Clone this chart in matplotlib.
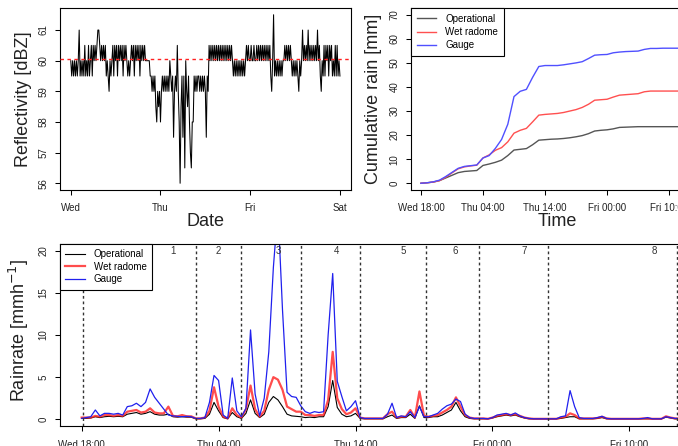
import matplotlib
matplotlib.use('Agg')
import matplotlib.pyplot as plt
import numpy as np

plt.rcParams['font.family'] = ['Liberation Sans', 'DejaVu Sans']

# ---------------- data ----------------
# Reflectivity, every 15 min from Wed 00:00 to Sat 00:00 (289 values)
reflectivity = [
    # Wed
    60, 59.5, 60, 59.5, 60, 59.5, 60, 59.5, 60, 61, 59.5, 60,
    59.5, 60, 59.5, 60.5, 59.5, 60, 59.5, 60.5, 59.5, 60, 60.5, 59.5,
    60.5, 60, 60.5, 60, 60.5, 61, 61, 60.5, 60, 60.5, 60, 60.5,
    60, 60.5, 59.5, 60, 59.5, 59, 60, 59.5, 60, 60.5, 59.5, 60.5,
    60, 60.5, 59.5, 60.5, 60, 60.5, 60, 60.5, 59.5, 60.5, 60, 60.5,
    60, 59.5, 60, 59.5, 60, 60.5, 60, 60.5, 59.5, 60.5, 60, 60.5,
    60, 60.5, 59.5, 60.5, 60, 60.5, 60, 60.5, 60, 60, 60, 60,
    60, 59.5, 59.5, 59, 59.5, 59, 59.5, 58.5, 58, 59, 58.5, 59,
    # Thu
    58, 59, 59.5, 59, 59.5, 59, 59.5, 59, 59.5, 59, 60, 59.5,
    59, 59.5, 57.5, 59, 59.5, 59, 60.5, 59, 58, 56, 58.5, 59.5,
    57.5, 59.5, 56.5, 60, 59, 58.5, 59.5, 58, 57, 56.5, 58, 58,
    59.5, 59, 59.5, 59, 59.5, 59.5, 59, 59.5, 59, 59.5, 59, 59.5,
    59, 57.5, 59.5, 59, 60.5, 60, 60.5, 60, 60.5, 60, 60.5, 60,
    60.5, 60, 60.5, 60, 60.5, 60, 60.5, 60, 60.5, 60, 60.5, 60,
    60.5, 60, 60.5, 60, 60.5, 60, 59.5, 60, 59.5, 60, 59.5, 60,
    59.5, 60, 59.5, 60, 59.5, 60, 59.5, 60, 60.5, 60, 60.5, 60,
    # Fri
    60, 60.5, 60, 60, 60.5, 60, 60, 60.5, 60, 60.5, 60, 60.5,
    60, 60.5, 60, 60.5, 60, 60.5, 60, 60.5, 60, 60.5, 59.5, 59,
    60, 61.5, 59.5, 60, 59.5, 60, 59.5, 60, 59.5, 60, 59.5, 60,
    60, 60.5, 60, 60.5, 60, 60.5, 60, 60.5, 60, 59.5, 60, 59.5,
    60, 59.5, 60, 59.5, 59, 60, 59.5, 60, 61, 60, 60.5, 60,
    60.5, 60, 61, 60, 60.5, 60, 60.5, 60, 60.5, 60, 60.5, 60,
    61, 60, 60.5, 59.5, 59, 60, 59.5, 60.5, 59.5, 60.5, 60, 60.5,
    59.5, 60.5, 60, 60.5, 59.5, 60, 59.5, 60.5, 59.5, 60.5, 59.5, 60,
    # Sat 00:00
    59.5,
]
refl_reference = 60.04
day_ticks = [0, 1, 2, 3]
day_labels = ['Wed', 'Thu', 'Fri', 'Sat']

# Cumulative rain, hourly from Wed 18:00 (44 values)
cum_operational = [
    0, 0.2, 0.5, 1.1, 2.2, 3.3, 4.4, 4.9, 5.1, 5.3,
    7.4, 8.0, 8.7, 9.6, 11.5, 13.8, 14.1, 14.4, 16.0, 17.9,
    18.1, 18.3, 18.4, 18.6, 18.9, 19.3, 19.8, 20.6, 21.7, 22.0,
    22.2, 22.6, 23.2, 23.3, 23.4, 23.5, 23.5, 23.5, 23.5, 23.5,
    23.5, 23.5, 23.5, 23.5,
]
cum_wet = [
    0, 0.2, 0.5, 1.1, 2.5, 4.3, 6.0, 6.8, 7.2, 7.5,
    10.5, 11.8, 13.7, 14.8, 17.2, 20.8, 22.0, 22.8, 25.5, 28.3,
    28.6, 28.8, 29.0, 29.4, 30.0, 30.6, 31.5, 32.8, 34.5, 34.7,
    34.9, 35.8, 36.6, 36.8, 37.0, 37.2, 38.0, 38.3, 38.3, 38.3,
    38.3, 38.3, 38.3, 38.3,
]
cum_gauge = [
    0, 0.2, 0.6, 1.3, 2.8, 4.5, 6.2, 7.0, 7.3, 7.6,
    10.5, 11.5, 14.5, 18.2, 24.5, 36.0, 38.2, 39.0, 44.0, 48.5,
    48.9, 48.9, 48.9, 49.2, 49.6, 50.0, 50.5, 51.8, 53.2, 53.4,
    53.5, 54.2, 54.5, 54.7, 54.8, 54.9, 55.6, 56.0, 56.0, 56.1,
    56.1, 56.1, 56.1, 56.1,
]

# Rain rate, every 20 min from Wed 18:00 (132 values)
rate_operational = [
    0.1, 0.1, 0.15, 0.3, 0.2, 0.3, 0.35, 0.3, 0.35, 0.3, 0.6, 0.7,
    0.8, 0.6, 0.7, 0.9, 0.6, 0.5, 0.5, 0.6, 0.3, 0.25, 0.3, 0.25,
    0.25, 0.05, 0.05, 0.1, 0.6, 2.0, 1.0, 0.2, 0.05, 0.8, 0.3, 0.1,
    0.7, 2.3, 0.7, 0.2, 0.6, 2.0, 2.7, 2.3, 1.5, 0.6, 0.4, 0.35,
    0.3, 0.2, 0.25, 0.2, 0.3, 0.3, 1.5, 4.6, 1.4, 0.6, 0.3, 0.4,
    0.7, 0.1, 0.05, 0.05, 0.05, 0.05, 0.05, 0.3, 0.5, 0.1, 0.2, 0.2,
    0.6, 0.1, 1.6, 0.2, 0.2, 0.3, 0.3, 0.5, 0.8, 1.1, 2.0, 1.0,
    0.3, 0.1, 0.05, 0.05, 0.05, 0.05, 0.15, 0.3, 0.4, 0.5, 0.4, 0.5,
    0.3, 0.15, 0.05, 0.05, 0.05, 0.05, 0.05, 0.05, 0.05, 0.1, 0.2, 0.3,
    0.3, 0.05, 0.05, 0.05, 0.05, 0.1, 0.2, 0.05, 0.05, 0.05, 0.05, 0.05,
    0.05, 0.05, 0.05, 0.05, 0.05, 0.05, 0.05, 0.05, 0.25, 0.15, 0.05, 0.05,
]
rate_wet = [
    0.2, 0.2, 0.2, 0.4, 0.3, 0.5, 0.5, 0.4, 0.5, 0.4, 0.9, 1.0,
    1.1, 0.8, 0.9, 1.3, 0.8, 0.7, 0.7, 1.5, 0.4, 0.35, 0.5, 0.35,
    0.35, 0.1, 0.1, 0.2, 1.0, 3.8, 1.5, 0.3, 0.1, 1.3, 0.5, 0.2,
    1.2, 4.0, 1.2, 0.3, 1.0, 3.5, 5.0, 4.7, 3.5, 1.5, 1.2, 0.9,
    0.9, 0.5, 0.5, 0.4, 0.5, 0.5, 2.3, 8.0, 2.5, 1.2, 0.6, 0.8,
    1.3, 0.2, 0.1, 0.1, 0.1, 0.1, 0.1, 0.6, 0.9, 0.2, 0.3, 0.3,
    1.1, 0.2, 3.3, 0.4, 0.3, 0.4, 0.5, 0.8, 1.1, 1.5, 2.6, 1.5,
    0.5, 0.2, 0.1, 0.1, 0.1, 0.05, 0.2, 0.4, 0.5, 0.6, 0.5, 0.6,
    0.4, 0.2, 0.1, 0.05, 0.05, 0.05, 0.05, 0.05, 0.05, 0.2, 0.3, 0.7,
    0.5, 0.1, 0.1, 0.1, 0.1, 0.15, 0.3, 0.1, 0.05, 0.05, 0.05, 0.05,
    0.05, 0.05, 0.05, 0.1, 0.1, 0.05, 0.05, 0.05, 0.35, 0.2, 0.1, 0.1,
]
rate_gauge = [
    0.1, 0.2, 0.3, 1.1, 0.4, 0.7, 0.7, 0.6, 0.7, 0.5, 1.5, 1.6,
    1.9, 1.5, 2.0, 3.6, 2.6, 1.9, 1.2, 0.5, 0.4, 0.35, 0.3, 0.35,
    0.3, 0.1, 0.1, 0.2, 2.0, 5.2, 4.6, 0.5, 0.1, 4.9, 1.0, 0.3,
    1.3, 10.6, 3.0, 0.4, 2.5, 8.0, 18.0, 25.0, 13.0, 3.2, 2.7, 2.6,
    1.6, 0.9, 0.7, 0.9, 0.8, 0.9, 10.0, 17.3, 4.5, 2.7, 1.0, 1.5,
    2.2, 0.2, 0.1, 0.1, 0.1, 0.1, 0.1, 0.6, 1.9, 0.2, 0.4, 0.3,
    0.9, 0.2, 1.5, 0.3, 0.3, 0.5, 0.7, 1.2, 1.6, 1.8, 2.4, 2.1,
    0.6, 0.2, 0.1, 0.1, 0.1, 0.05, 0.2, 0.5, 0.6, 0.7, 0.5, 0.75,
    0.4, 0.2, 0.1, 0.05, 0.05, 0.05, 0.05, 0.05, 0.05, 0.3, 0.4, 3.4,
    1.5, 0.2, 0.1, 0.1, 0.1, 0.2, 0.35, 0.1, 0.05, 0.05, 0.05, 0.05,
    0.05, 0.05, 0.05, 0.1, 0.2, 0.05, 0.05, 0.05, 0.3, 0.2, 0.1, 0.1,
]
time_ticks = [0, 10, 20, 30, 40]
time_labels = ['Wed 18:00', 'Thu 04:00', 'Thu 14:00', 'Fri 00:00', 'Fri 10:00']
event_bounds = [0.12, 8.32, 11.65, 16.0, 20.36, 25.18, 29.0, 34.03, 43.47]
event_label_pos = [6.64, 10.0, 14.33, 18.64, 23.5, 27.3, 32.3, 41.8]
event_labels = ['1', '2', '3', '4', '5', '6', '7', '8']

refl_days = np.arange(len(reflectivity)) / 96.0
cum_hours = np.arange(len(cum_gauge), dtype=float)
rate_hours = np.arange(len(rate_gauge)) / 3.0

# ---------------- figure ----------------
W, H = 678, 446
fig = plt.figure(figsize=(W / 100, H / 100), dpi=100)

def axes_px(l, t, r, b):
    return fig.add_axes([l / W, 1 - b / H, (r - l) / W, (b - t) / H])

TICK = dict(direction='out', length=3.8, width=0.75, labelsize=7,
            labelcolor='#222222', color='black')

def style(ax, xpad=5.5):
    for s in ax.spines.values():
        s.set_linewidth(0.8)
        s.set_color('black')
    ax.tick_params(axis='x', pad=xpad, **TICK)
    ax.tick_params(axis='y', pad=4.5, **TICK)

# ---- top left: reflectivity ----
ax1 = axes_px(60, 8, 350.7, 190)
ax1.plot(refl_days, reflectivity, color='black', lw=0.75)
ax1.axhline(refl_reference, color='#ff2020', lw=1.0, dashes=(2.5, 2.5), zorder=5)
ax1.set_xlim(-0.12, 3.12)
ax1.set_ylim(55.78, 61.72)
ax1.set_xticks(day_ticks)
ax1.set_xticklabels(day_labels)
ax1.set_yticks([56, 57, 58, 59, 60, 61])
ax1.set_yticklabels(['56', '57', '58', '59', '60', '61'], rotation=90, va='center')
style(ax1)

# ---- top right: cumulative rain ----
ax2 = axes_px(411, 8, 702, 190)
c_op, c_wet, c_g = '#555555', '#ff5050', '#5050ff'
ax2.plot(cum_hours, cum_operational, color=c_op, lw=1.0, label='Operational')
ax2.plot(cum_hours, cum_wet, color=c_wet, lw=1.0, label='Wet radome')
ax2.plot(cum_hours, cum_gauge, color=c_g, lw=1.0, label='Gauge')
ax2.set_xlim(-1.6, 45.3)
ax2.set_ylim(-2.8, 72.8)
ax2.set_xticks(time_ticks)
ax2.set_xticklabels(time_labels)
ax2.set_yticks([0, 10, 20, 30, 40, 50, 60, 70])
ax2.set_yticklabels([str(v) for v in [0, 10, 20, 30, 40, 50, 60, 70]],
                    rotation=90, va='center')
style(ax2)
leg = ax2.legend(loc='upper left', fontsize=7, frameon=True, fancybox=False,
                 edgecolor='black', framealpha=1, borderaxespad=0,
                 handlelength=2.0, handletextpad=0.9, borderpad=0.6,
                 labelspacing=0.32)
leg.get_frame().set_linewidth(0.8)

# ---- bottom: rain rate ----
ax3 = axes_px(60, 244, 702, 426)
ax3.plot(rate_hours, rate_operational, color='black', lw=0.8, label='Operational')
ax3.plot(rate_hours, rate_wet, color='#ff2020', lw=1.6, alpha=0.8, label='Wet radome')
ax3.plot(rate_hours, rate_gauge, color='#2020ee', lw=0.9, label='Gauge')
for xb in event_bounds:
    ax3.axvline(xb, color='#333333', lw=1.0, dashes=(2, 2))
for xp, lab in zip(event_label_pos, event_labels):
    ax3.text(xp, 20, lab, ha='center', va='center', fontsize=7, color='#333333')
ax3.set_xlim(-1.58, 45.3)
ax3.set_ylim(-0.8, 20.8)
ax3.set_xticks(time_ticks)
ax3.set_xticklabels(time_labels)
ax3.set_yticks([0, 5, 10, 15, 20])
ax3.set_yticklabels(['0', '5', '10', '15', '20'], rotation=90, va='center')
style(ax3, xpad=6.5)
leg3 = ax3.legend(loc='upper left', fontsize=7, frameon=True, fancybox=False,
                  edgecolor='black', framealpha=1, borderaxespad=0,
                  handlelength=2.0, handletextpad=0.9, borderpad=0.55,
                  labelspacing=0.25)
leg3.get_frame().set_linewidth(0.8)

# ---- axis titles (placed in pixel coordinates) ----
def ftext(x, y, s, **kw):
    fig.text(x / W, 1 - y / H, s, ha='center', va='center', fontsize=13,
             color='#222222', **kw)

ftext(24, 99, 'Reflectivity [dBZ]', rotation=90)
ftext(205, 222, 'Date')
ftext(374, 99, 'Cumulative rain [mm]', rotation=90)
ftext(557, 222, 'Time')
ftext(19, 330, r'Rainrate [mmh$^{-1}$]', rotation=90)

fig.savefig('out.png', dpi=100)
